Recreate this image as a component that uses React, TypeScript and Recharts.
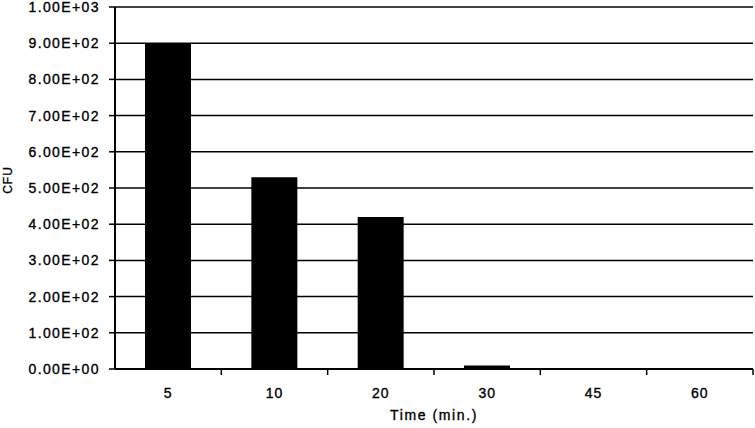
import React from 'react';
import { BarChart, Bar, XAxis, YAxis, CartesianGrid } from 'recharts';

const categories = ['5', '10', '20', '30', '45', '60'];
const cfuValues = [900, 530, 420, 10, 0, 0];
const yTicks = [0, 100, 200, 300, 400, 500, 600, 700, 800, 900, 1000];

const data = categories.map((c, i) => ({ time: c, cfu: cfuValues[i] }));

const W = 755;
const H = 428;
const M = { top: 7, right: 2, left: 0, bottom: 0 };
const Y_W = 115;
const X_H = 59;
const FONT = '"Liberation Sans", Arial, sans-serif';
const band = (W - M.left - M.right - Y_W) / categories.length;

const fmt = (v: number) => {
  if (v === 0) return '0.00E+00';
  const e = Math.floor(Math.log10(v));
  const m = v / Math.pow(10, e);
  return `${m.toFixed(2)}E+${String(e).padStart(2, '0')}`;
};

const XTick = (props: any) => {
  const { x, y, payload } = props;
  const axisY = y - 8;
  return (
    <g>
      <line x1={x + band / 2} x2={x + band / 2} y1={axisY} y2={axisY + 6} stroke="#000" strokeWidth={1.5} />
      <text x={x} y={y + 21} textAnchor="middle" fontFamily={FONT} fontSize={14} letterSpacing={1} fill="#000" stroke="#000" strokeWidth={0.35}>
        {payload.value}
      </text>
    </g>
  );
};

const YTick = (props: any) => {
  const { x, y, payload } = props;
  return (
    <text x={x} y={y + 5} textAnchor="end" fontFamily={FONT} fontSize={14} letterSpacing={1.4} fill="#000" stroke="#000" strokeWidth={0.35}>
      {fmt(payload.value)}
    </text>
  );
};

export default function App() {
  return (
    <div style={{ position: 'absolute', left: 0, top: 0, width: W, height: H, background: '#fff' }}>
      <BarChart width={W} height={H} data={data} margin={M}>
        <CartesianGrid yAxisId="left" horizontal vertical={false} stroke="#000" strokeWidth={1.5} strokeOpacity={1} />
        <XAxis
          dataKey="time"
          height={X_H}
          tickLine={false}
          tickSize={6}
          tickMargin={2}
          axisLine={{ stroke: '#000', strokeWidth: 2 }}
          tick={<XTick />}
          interval={0}
          label={(p: any) => {
            const vb = p.viewBox;
            return (
              <text x={vb.x + vb.width / 2} y={420} textAnchor="middle" fontFamily={FONT} fontSize={14} letterSpacing={1.6} fill="#000" stroke="#000" strokeWidth={0.35}>
                Time (min.)
              </text>
            );
          }}
        />
        <YAxis
          yAxisId="left"
          width={Y_W}
          domain={[0, 1000]}
          ticks={yTicks}
          interval={0}
          tickSize={6}
          tickMargin={9}
          tickLine={{ stroke: '#000', strokeWidth: 1.5 }}
          axisLine={{ stroke: '#000', strokeWidth: 2 }}
          tick={<YTick />}
          label={() => (
            <text x={12} y={180} transform="rotate(-90 12 180)" textAnchor="middle" fontFamily={FONT} fontSize={12} letterSpacing={1} fill="#000" stroke="#000" strokeWidth={0.3}>
              CFU
            </text>
          )}
        />
        <YAxis
          yAxisId="right"
          orientation="right"
          width={0}
          domain={[0, 1000]}
          tick={false}
          tickLine={false}
          axisLine={{ stroke: '#000', strokeWidth: 2 }}
        />
        <Bar yAxisId="left" dataKey="cfu" fill="#000" barSize={46} isAnimationActive={false} />
      </BarChart>
    </div>
  );
}
